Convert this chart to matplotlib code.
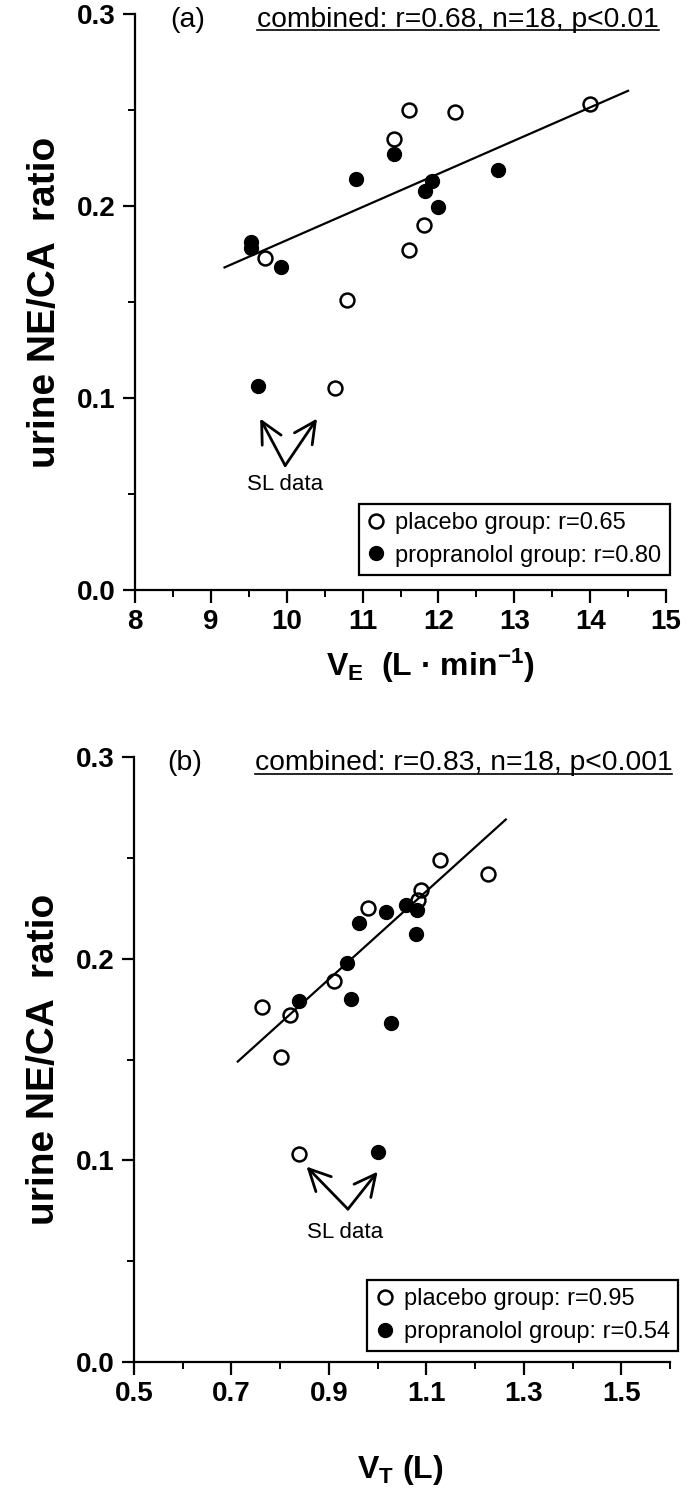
import matplotlib
matplotlib.use('Agg')
import matplotlib.pyplot as plt
from matplotlib.lines import Line2D
from matplotlib.ticker import MultipleLocator, FixedLocator, FormatStrFormatter

plt.rcParams['font.family'] = ['Liberation Sans', 'DejaVu Sans']
plt.rcParams['mathtext.default'] = 'regular'

# ---------------- data: panel (a) ----------------
a_placebo_x = [11.61, 12.22, 11.42, 14.00, 11.81, 11.61, 9.71, 10.80, 10.63]
a_placebo_y = [0.250, 0.249, 0.235, 0.253, 0.190, 0.177, 0.173, 0.151, 0.105]
a_prop_x = [11.42, 10.91, 11.91, 11.82, 12.00, 12.79, 9.53, 9.53, 9.93, 9.62]
a_prop_y = [0.227, 0.214, 0.213, 0.208, 0.1995, 0.219, 0.181, 0.178, 0.168, 0.106]
a_fit_x = [9.18, 14.50]
a_fit_y = [0.168, 0.260]

# ---------------- data: panel (b) ----------------
b_placebo_x = [1.127, 1.226, 1.090, 1.082, 0.981, 0.910, 0.763, 0.821, 0.801, 0.838]
b_placebo_y = [0.249, 0.242, 0.234, 0.229, 0.225, 0.189, 0.176, 0.172, 0.151, 0.103]
b_prop_x = [1.059, 1.080, 1.017, 0.962, 1.079, 0.938, 0.838, 0.945, 1.028, 1.000]
b_prop_y = [0.2267, 0.224, 0.223, 0.2176, 0.212, 0.198, 0.179, 0.180, 0.168, 0.104]
b_fit_x = [0.713, 1.263]
b_fit_y = [0.149, 0.269]

a_xticks = [8, 9, 10, 11, 12, 13, 14, 15]
b_xticks = [0.5, 0.7, 0.9, 1.1, 1.3, 1.5]
yticks = [0.0, 0.1, 0.2, 0.3]

W, H = 690, 1499
fig = plt.figure(figsize=(W / 100, H / 100), dpi=100)

def px_axes(left, right, top, bottom):
    return fig.add_axes([left / W, 1 - bottom / H, (right - left) / W, (bottom - top) / H])

ax1 = px_axes(135, 666, 14, 590)
ax2 = px_axes(134, 670, 757, 1362)

TICKFS = 20
MS = 10

def style_axes(ax, xlim, xmajor, xminor):
    ax.set_xlim(*xlim)
    ax.set_ylim(0, 0.3)
    for s in ['top', 'right']:
        ax.spines[s].set_visible(False)
    for s in ['left', 'bottom']:
        ax.spines[s].set_linewidth(1.6)
    ax.xaxis.set_major_locator(FixedLocator(xmajor))
    ax.xaxis.set_minor_locator(FixedLocator(xminor))
    ax.yaxis.set_major_locator(FixedLocator(yticks))
    ax.yaxis.set_minor_locator(MultipleLocator(0.05))
    ax.yaxis.set_major_formatter(FormatStrFormatter('%.1f'))
    ax.tick_params(which='major', direction='out', length=9, width=1.6,
                   labelsize=TICKFS, pad=5)
    ax.tick_params(which='minor', direction='out', length=5, width=1.4)
    ax.set_ylabel('urine NE/CA  ratio', fontsize=28, fontweight='bold', labelpad=10)

def draw_panel(ax, px, py, fx, fy, fitx, fity, letter, combined, legend_r,
               legend_anchor, sl_text, sl_tail, sl_heads):
    ax.plot(fitx, fity, color='black', lw=1.6, zorder=2)
    ax.plot(px, py, linestyle='none', marker='o', ms=MS, mfc='none', mec='black',
            mew=1.8, zorder=3)
    ax.plot(fx, fy, linestyle='none', marker='o', ms=MS, mfc='black', mec='black',
            mew=1.0, zorder=4)
    ax.text(letter[0], letter[1], letter[2], transform=ax.transAxes, fontsize=20.5,
            ha='center', va='center')
    ct = ax.text(combined[0], combined[1], combined[2], transform=ax.transAxes,
                 fontsize=20.3, ha='right', va='center')
    handles = [Line2D([], [], linestyle='none', marker='o', ms=MS, mfc='none',
                      mec='black', mew=1.8),
               Line2D([], [], linestyle='none', marker='o', ms=MS, mfc='black',
                      mec='black')]
    leg = ax.legend(handles, ['placebo group: r=%s' % legend_r[0],
                              'propranolol group: r=%s' % legend_r[1]],
                    loc='lower right', bbox_to_anchor=legend_anchor,
                    bbox_transform=ax.transAxes, fontsize=17, frameon=True,
                    fancybox=False, framealpha=1, edgecolor='black',
                    borderpad=0.35, handlelength=0.8, handletextpad=0.4,
                    labelspacing=0.45, borderaxespad=0)
    leg.get_frame().set_linewidth(1.6)
    ax.text(sl_text[0], sl_text[1], 'SL data', fontsize=16, ha='center', va='center')
    for hx, hy in sl_heads:
        ax.annotate('', xy=(hx, hy), xytext=sl_tail,
                    arrowprops=dict(arrowstyle='->,head_length=0.7,head_width=0.35',
                                    lw=2.0, color='black', mutation_scale=22,
                                    shrinkA=0, shrinkB=0))
    return ct

style_axes(ax1, (8, 15), a_xticks, [8.5 + i for i in range(7)])
style_axes(ax2, (0.5, 1.6), b_xticks, [0.6, 0.8, 1.0, 1.2, 1.4, 1.6])
ax2.xaxis.set_major_formatter(FormatStrFormatter('%.1f'))
for ax in (ax1, ax2):
    for lab in ax.get_xticklabels() + ax.get_yticklabels():
        lab.set_fontweight('bold')

ax1.set_xlabel(r'V$_{E}$  (L · min$^{-1}$)', fontsize=23, fontweight='bold', labelpad=8)
ax1.xaxis.label.set_x(0.556)
ax2.set_xlabel(r'V$_{T}$ (L)', fontsize=23, fontweight='bold', labelpad=33)
ax2.xaxis.label.set_x(0.496)

ct1 = draw_panel(ax1, a_placebo_x, a_placebo_y, a_prop_x, a_prop_y, a_fit_x, a_fit_y,
                 (0.10, 0.99, '(a)'), (0.986, 0.99, 'combined: r=0.68, n=18, p<0.01'),
                 ('0.65', '0.80'), (1.007, 0.026),
                 (9.98, 0.055), (9.98, 0.0648), [(9.65, 0.0893), (10.40, 0.0893)])
ct2 = draw_panel(ax2, b_placebo_x, b_placebo_y, b_prop_x, b_prop_y, b_fit_x, b_fit_y,
                 (0.095, 0.99, '(b)'), (1.004, 0.99, 'combined: r=0.83, n=18, p<0.001'),
                 ('0.95', '0.54'), (1.015, 0.018),
                 (0.934, 0.0643), (0.939, 0.0758), [(0.854, 0.0969), (1.0, 0.0944)])

# underline the "combined" annotations
fig.canvas.draw()
renderer = fig.canvas.get_renderer()
for ax, ct in [(ax1, ct1), (ax2, ct2)]:
    bb = ct.get_window_extent(renderer).transformed(ax.transAxes.inverted())
    ax.plot([bb.x0, bb.x1], [bb.y0 + 0.004, bb.y0 + 0.004], transform=ax.transAxes,
            color='black', lw=1.2, clip_on=False)

fig.savefig('out.png', dpi=100)
